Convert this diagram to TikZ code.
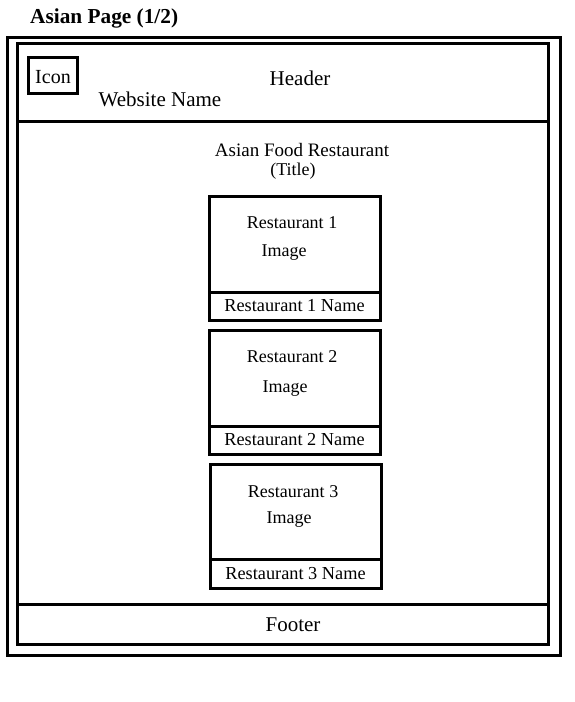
\documentclass[tikz,border=0pt]{standalone}
\usepackage{fontspec}
\setmainfont{Liberation Serif}
\usetikzlibrary{positioning}

\begin{document}
\begin{tikzpicture}
		[x=1pt,y=-1pt,line cap=rect,
		%Styles
		frame line/.style={line width=3pt},
		label text/.style={inner sep=0pt,font=\fontsize{18}{20}\selectfont},
		big text/.style={inner sep=0pt,font=\fontsize{21}{23}\selectfont},
		img box/.style={draw,line width=3pt,outer sep=0pt,minimum width=171pt,minimum height=96pt},
		name box/.style={draw,line width=3pt,outer sep=0pt,minimum width=171pt,minimum height=28pt,inner sep=0pt,font=\fontsize{18.3}{20}\selectfont}
		]
		\useasboundingbox (0,0) rectangle (575,702);
		
		%Frames
		\coordinate (outer nw) at (7,37);
		\coordinate (outer se) at (560,655);
		\coordinate (inner nw) at (17,43);
		\coordinate (inner se) at (548,644);
		\draw[frame line] (outer nw) rectangle (outer se);
		\draw[frame line] (inner nw) rectangle (inner se);
		\coordinate (head w) at (17,121);
		\coordinate (head e) at (548,121);
		\coordinate (foot w) at (17,604);
		\coordinate (foot e) at (548,604);
		\draw[frame line] (head w) -- (head e);
		\draw[frame line] (foot w) -- (foot e);
		
		%The graphic
		\node[big text,anchor=west,font=\fontsize{21.3}{23}\selectfont\bfseries] (title) at (30,18) {Asian Page (1/2)};
		\node[draw,line width=3pt,minimum width=49pt,minimum height=36pt,inner sep=0pt] (icon) at (52.5,75) {};
		\node[label text,font=\fontsize{20}{22}\selectfont] (icon text) at (53,77) {Icon};
		\node[big text] (header) at (300,78) {Header};
		\node[big text] (site) at (160,99) {Website Name};
		\node[label text,font=\fontsize{19}{21}\selectfont] (page title) at (302,150) {Asian Food Restaurant};
		\node[label text] (title tag) at (293,171) {(Title)};
		
		\node[img box] (img1) at (294.5,244) {};
		\node[name box,below=0pt of img1] (name1) {Restaurant 1 Name};
		\node[label text] (rest1) at (292,223) {Restaurant 1};
		\node[label text] (image1) at (284,253) {Image};
		
		\node[img box] (img2) at (294.5,378) {};
		\node[name box,below=0pt of img2] (name2) {Restaurant 2 Name};
		\node[label text] (rest2) at (292,357) {Restaurant 2};
		\node[label text] (image2) at (285,389) {Image};
		
		\node[img box,minimum height=95pt] (img3) at (295.5,511.5) {};
		\node[name box,minimum height=29pt,below=0pt of img3] (name3) {Restaurant 3 Name};
		\node[label text] (rest3) at (293,492) {Restaurant 3};
		\node[label text] (image3) at (289,520) {Image};
		
		\node[big text] (footer) at (293,625) {Footer};
	\end{tikzpicture}
\end{document}
